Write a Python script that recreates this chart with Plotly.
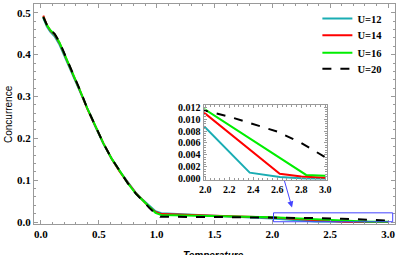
import plotly.graph_objects as go

# ---- data ----
T_main = [0.02, 0.05, 0.08, 0.12, 0.16, 0.22, 0.28, 0.34, 0.40, 0.47, 0.54,
          0.61, 0.68, 0.75, 0.82, 0.88, 0.94, 0.99]
C12_main = [0.488, 0.468, 0.455, 0.443, 0.424, 0.386, 0.348, 0.310, 0.269, 0.228, 0.187,
            0.152, 0.122, 0.095, 0.070, 0.053, 0.037, 0.026]
C14_main = [0.493, 0.471, 0.458, 0.447, 0.428, 0.390, 0.351, 0.312, 0.271, 0.229, 0.188,
            0.152, 0.121, 0.094, 0.069, 0.052, 0.035, 0.024]
C16_main = [0.490, 0.471, 0.459, 0.448, 0.429, 0.391, 0.352, 0.313, 0.272, 0.230, 0.188,
            0.152, 0.121, 0.093, 0.068, 0.051, 0.034, 0.022]
C20_main = [0.490, 0.472, 0.460, 0.449, 0.430, 0.392, 0.353, 0.314, 0.272, 0.230, 0.188,
            0.152, 0.121, 0.093, 0.068, 0.050, 0.033, 0.020]

T12_tail = [1.04, 1.5, 2.0, 2.37, 2.62, 2.83, 3.0]
C12_tail = [0.021, 0.0145, 0.0086, 0.00103, 0.0003, 0.00005, 0.0]
T14_tail = [1.04, 1.5, 2.0, 2.62, 2.8, 3.0]
C14_tail = [0.019, 0.0148, 0.0109, 0.00086, 0.0004, 0.0002]
T16_tail = [1.04, 1.5, 2.0, 2.84, 3.0]
C16_tail = [0.017, 0.0142, 0.01157, 0.00065, 0.0005]
T20_tail = [1.03, 1.5, 2.0, 2.2, 2.4, 2.6, 2.8, 3.0]
C20_tail = [0.0125, 0.0120, 0.0114, 0.0104, 0.0092, 0.0079, 0.0060, 0.0036]

labels = ["U=12", "U=14", "U=16", "U=20"]
colors = ["#1aadb3", "#ff0000", "#00ee00", "#000000"]
dashes = ["solid", "solid", "solid", "dash"]

series = [
    (T_main + T12_tail, C12_main + C12_tail),
    (T_main + T14_tail, C14_main + C14_tail),
    (T_main + T16_tail, C16_main + C16_tail),
    (T_main + T20_tail, C20_main + C20_tail),
]
legend_ids = ["legend", "legend2", "legend3", "legend4"]
legend_tops = [1.0, 0.924, 0.844, 0.772]

fig = go.Figure()
for (t, c), lab, col, d, lg in zip(series, labels, colors, dashes, legend_ids):
    fig.add_trace(go.Scatter(x=t, y=c, mode="lines", name=lab, legend=lg,
                             line=dict(color=col, width=2, dash=d)))
for (t, c), lab, col, d in zip(series, labels, colors, dashes):
    fig.add_trace(go.Scatter(x=t, y=c, mode="lines", name=lab, showlegend=False,
                             xaxis="x2", yaxis="y2",
                             line=dict(color=col, width=2, dash=d)))

tickfont = dict(family="Liberation Serif", size=11, color="black", weight="bold")
frame = "#9a9a9a"

fig.update_layout(
    width=399, height=255,
    margin=dict(l=34, r=3, t=0, b=31),
    paper_bgcolor="white", plot_bgcolor="white",
    xaxis=dict(range=[-0.06, 3.06], tickvals=[0, 0.5, 1, 1.5, 2, 2.5, 3],
               ticktext=["0.0", "0.5", "1.0", "1.5", "2.0", "2.5", "3.0"],
               ticks="inside", ticklen=4, tickcolor=frame, showgrid=False, zeroline=False,
               showline=True, linecolor=frame, linewidth=1, mirror="ticks",
               tickfont=tickfont, automargin=False,
               minor=dict(dtick=0.1, tick0=0, ticks="inside", ticklen=2, tickcolor=frame, showgrid=False)),
    yaxis=dict(range=[-0.0047, 0.521], tickvals=[0, 0.1, 0.2, 0.3, 0.4, 0.5],
               ticktext=["0.0", "0.1", "0.2", "0.3", "0.4", "0.5"],
               ticks="inside", ticklen=4, tickcolor=frame, showgrid=False, zeroline=False,
               showline=True, linecolor=frame, linewidth=1, mirror="ticks",
               tickfont=tickfont, automargin=False,
               minor=dict(dtick=0.02, tick0=0, ticks="inside", ticklen=2, tickcolor=frame, showgrid=False)),
    xaxis2=dict(domain=[0.4696, 0.812], anchor="y2", range=[1.985, 3.015],
                tickvals=[2.0, 2.2, 2.4, 2.6, 2.8, 3.0],
                ticktext=["2.0", "2.2", "2.4", "2.6", "2.8", "3.0"],
                ticks="inside", ticklen=3, tickcolor=frame, showgrid=False, zeroline=False,
                showline=True, linecolor=frame, linewidth=1, mirror="ticks",
                tickfont=dict(family="Liberation Serif", size=10, color="black", weight="bold"),
                minor=dict(dtick=0.04, tick0=2.0, ticks="inside", ticklen=2, tickcolor=frame, showgrid=False)),
    yaxis2=dict(domain=[0.201, 0.540], anchor="x2", range=[-0.00016, 0.01232],
                tickvals=[0, 0.002, 0.004, 0.006, 0.008, 0.010, 0.012],
                ticktext=["0.000", "0.002", "0.004", "0.006", "0.008", "0.010", "0.012"],
                ticks="inside", ticklen=3, tickcolor=frame, showgrid=False, zeroline=False,
                showline=True, linecolor=frame, linewidth=1, mirror="ticks",
                tickfont=dict(family="Liberation Serif", size=10, color="black", weight="bold"),
                minor=dict(dtick=0.0004, tick0=0, ticks="inside", ticklen=2, tickcolor=frame, showgrid=False)),
    showlegend=True,
)

for lg, top in zip(legend_ids, legend_tops):
    fig.update_layout({lg: dict(x=0.785, y=top, xanchor="left", yanchor="top",
                                bgcolor="rgba(0,0,0,0)",
                                font=dict(family="Liberation Serif", size=10.5,
                                          color="black", weight="bold"))})

fig.add_shape(type="rect", xref="x", yref="y", x0=2.01, x1=3.04, y0=0.0007, y1=0.022,
              line=dict(color="#4444ff", width=1), fillcolor="rgba(0,0,0,0)")
fig.add_annotation(x=2.17, y=0.035, xref="x", yref="y", ax=-8, ay=-28,
                   showarrow=True, arrowhead=2, arrowsize=1.2, arrowwidth=1,
                   arrowcolor="#4444ff", text="")

fig.add_annotation(text="Concurrence", xref="paper", yref="paper", x=-0.072, y=0.5,
                   textangle=-90, showarrow=False, xanchor="center", yanchor="middle",
                   font=dict(family="Liberation Sans", size=10, color="black"))
fig.add_annotation(text="<i><b>Temperature</b></i>", xref="paper", yref="paper", x=0.497, y=-0.107,
                   showarrow=False, xanchor="center", yanchor="top",
                   font=dict(family="Liberation Sans", size=10, color="black"))

fig.write_html("out.html", config={"displayModeBar": False},
               post_script="document.body.style.margin='0';document.body.style.overflow='hidden';")
